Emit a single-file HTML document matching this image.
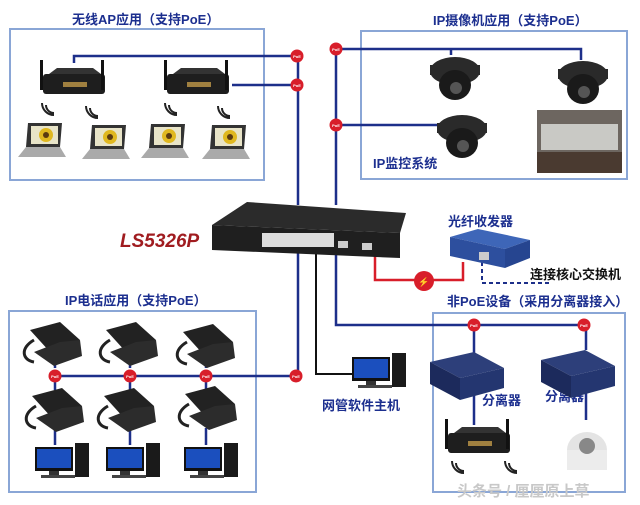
<!DOCTYPE html>
<html><head><meta charset="utf-8"><style>
html,body{margin:0;padding:0;background:#fff;}
svg{display:block}
text{font-family:"Liberation Sans","Noto Sans CJK SC",sans-serif;font-weight:bold}
</style></head><body>
<svg width="640" height="505" viewBox="0 0 640 505" xmlns="http://www.w3.org/2000/svg">
<defs>
<g id="poe"><circle r="6.5" fill="#d81e2a"/><text x="0" y="2" font-size="4" fill="#fff" text-anchor="middle">PoE</text></g>
<g id="ap"><rect x="0" y="8" width="62" height="20" rx="3" fill="#1e1e1e"/><polygon points="6,8 14,2 50,2 58,8" fill="#333"/><rect x="-3" y="-6" width="3" height="30" fill="#111"/><rect x="58" y="-6" width="3" height="30" fill="#111"/><rect x="20" y="16" width="24" height="5" fill="#a08040"/></g>
<g id="lap"><polygon points="6,0 40,0 38,24 4,24" fill="#333"/><rect x="9" y="3" width="27" height="18" fill="#e8e4c8"/><circle cx="24" cy="12" r="7" fill="#e0b820"/><circle cx="24" cy="12" r="3" fill="#5a3a10"/><polygon points="4,24 38,24 44,34 -4,34" fill="#aaa"/></g>
<g id="cam"><ellipse cx="25" cy="16" rx="25" ry="14" fill="#2a2a2a"/><rect x="0" y="10" width="50" height="10" fill="#2a2a2a"/><ellipse cx="25" cy="30" rx="16" ry="15" fill="#1a1a1a"/><circle cx="26" cy="33" r="6" fill="#555"/></g>
<g id="ph"><polygon points="10,8 40,0 60,18 30,30" fill="#222"/><polygon points="14,30 40,20 60,18 62,34 34,44" fill="#2c2c2c"/><path d="M14,18 C0,26 2,38 14,40" stroke="#222" stroke-width="3" fill="none"/></g>
<g id="pc"><rect x="0" y="4" width="38" height="24" fill="#111"/><rect x="2" y="6" width="34" height="19" fill="#1b4fbe"/><rect x="40" y="0" width="14" height="34" fill="#1a1a1a"/><rect x="14" y="28" width="10" height="4" fill="#333"/><rect x="6" y="32" width="34" height="3" fill="#444"/></g>
<g id="spl"><polygon points="0,10 44,0 74,16 30,26" fill="#2d3f7a"/><polygon points="0,10 30,26 30,48 0,32" fill="#1c2a5c"/><polygon points="30,26 74,16 74,36 30,48" fill="#243670"/></g>
<g id="wave"><path d="M-6,0 a8,8 0 0 0 8,8 M-10,-2 a12,12 0 0 0 12,12" stroke="#222" stroke-width="2" fill="none"/></g>
</defs>

<rect x="10" y="29" width="254" height="151" fill="none" stroke="#8aa6d6" stroke-width="2"/>
<rect x="361" y="31" width="266" height="148" fill="none" stroke="#8aa6d6" stroke-width="2"/>
<rect x="9" y="311" width="247" height="181" fill="none" stroke="#8aa6d6" stroke-width="2"/>
<rect x="433" y="313" width="192" height="179" fill="none" stroke="#8aa6d6" stroke-width="2"/>

<text x="72" y="24" font-size="13" fill="#1c2f8f">无线AP应用（支持PoE）</text>
<text x="433" y="25" font-size="13" fill="#1c2f8f">IP摄像机应用（支持PoE）</text>
<text x="373" y="168" font-size="13" fill="#1c2f8f">IP监控系统</text>
<text x="65" y="305" font-size="13" fill="#1c2f8f">IP电话应用（支持PoE）</text>
<text x="448" y="226" font-size="13" fill="#1c2f8f">光纤收发器</text>
<text x="530" y="279" font-size="13" fill="#111">连接核心交换机</text>
<text x="447" y="306" font-size="13" fill="#1c2f8f">非PoE设备（采用分离器接入）</text>
<text x="322" y="410" font-size="13" fill="#1c2f8f">网管软件主机</text>
<text x="482" y="405" font-size="13" fill="#1c2f8f">分离器</text>
<text x="545" y="401" font-size="13" fill="#1c2f8f">分离器</text>
<text x="120" y="247" font-size="19" font-style="italic" fill="#a01c20">LS5326P</text>
<text x="457" y="496" font-size="15" fill="#c8c8c8" font-weight="normal">头条号 / 厘厘原上草</text>

<g stroke="#1d2f8a" stroke-width="2.5" fill="none">
<path d="M74,63 V56 H298 V205"/>
<path d="M232,85 H298"/>
<path d="M336,205 V49 H581 V60"/>
<path d="M451,49 V55"/>
<path d="M336,125 H438"/>
<path d="M298,250 V376 H55"/>
<path d="M55,376 V390 M130,376 V390 M206,376 V390 M55,368 V362 M130,368 V362 M206,368 V362"/>
<path d="M55,428 V445 M130,428 V445 M206,428 V445"/>
<path d="M336,250 V325 H586 V350"/>
<path d="M474,325 V355 M474,395 V425 M586,390 V420"/>
</g>
<path d="M316,250 V374 H352" stroke="#111" stroke-width="2" fill="none"/>
<path d="M482,262 V283 H550" stroke="#1d2f8a" stroke-width="2" fill="none" stroke-dasharray="4,3"/>
<path d="M375,255 V280 H463 V262" stroke="#d81e2a" stroke-width="2.5" fill="none"/>
<circle cx="424" cy="281" r="10" fill="#d81e2a"/><text x="424" y="285" font-size="9" fill="#fff" text-anchor="middle">⚡</text>

<use href="#poe" x="297" y="56"/><use href="#poe" x="297" y="85"/>
<use href="#poe" x="336" y="49"/><use href="#poe" x="336" y="125"/>
<use href="#poe" x="55" y="376"/><use href="#poe" x="130" y="376"/><use href="#poe" x="206" y="376"/><use href="#poe" x="296" y="376"/>
<use href="#poe" x="474" y="325"/><use href="#poe" x="584" y="325"/>

<use href="#ap" x="43" y="66"/><use href="#ap" x="167" y="66"/>
<use href="#lap" x="22" y="123"/><use href="#lap" x="86" y="125"/><use href="#lap" x="145" y="124"/><use href="#lap" x="206" y="125"/>
<use href="#wave" x="52" y="105"/><use href="#wave" x="96" y="108"/><use href="#wave" x="175" y="105"/><use href="#wave" x="228" y="108"/>
<use href="#cam" x="430" y="55"/><use href="#cam" x="558" y="59"/><use href="#cam" x="437" y="113"/>
<rect x="537" y="110" width="85" height="63" fill="#6d6660"/><rect x="541" y="124" width="77" height="26" fill="#c9c9c5"/><rect x="537" y="152" width="85" height="21" fill="#4a3a30"/>
<use href="#ph" x="20" y="322"/><use href="#ph" x="96" y="322"/><use href="#ph" x="173" y="324"/>
<use href="#ph" x="22" y="388"/><use href="#ph" x="94" y="388"/><use href="#ph" x="175" y="386"/>
<use href="#pc" x="35" y="443"/><use href="#pc" x="106" y="443"/><use href="#pc" x="184" y="443"/>
<use href="#pc" x="352" y="353"/>
<use href="#spl" x="430" y="352"/><use href="#spl" x="541" y="350"/>
<use href="#ap" x="448" y="425"/>
<use href="#wave" x="462" y="463"/><use href="#wave" x="515" y="463"/>
<ellipse cx="587" cy="450" rx="20" ry="18" fill="#e4e4e4"/><rect x="567" y="450" width="40" height="20" fill="#ececec"/><circle cx="587" cy="446" r="8" fill="#888"/>
<polygon points="450,237 478,229 530,240 505,249" fill="#3e66b8"/>
<polygon points="450,237 505,249 505,268 450,256" fill="#2d4f9e"/>
<polygon points="505,249 530,240 530,258 505,268" fill="#264590"/>
<rect x="479" y="252" width="10" height="8" fill="#ccc"/>

<polygon points="212,225 247,202 406,213 400,233" fill="#2b2b2b"/>
<polygon points="212,225 400,233 400,258 212,250" fill="#1f1f1f"/>
<rect x="262" y="233" width="72" height="14" fill="#ddd"/>
<rect x="338" y="241" width="10" height="7" fill="#ccc"/><rect x="362" y="243" width="10" height="7" fill="#ccc"/>
</svg>
</body></html>
